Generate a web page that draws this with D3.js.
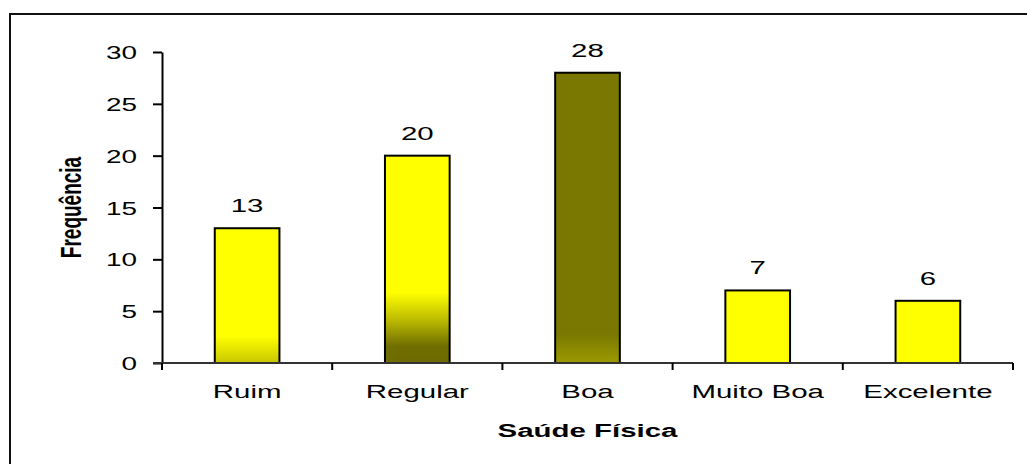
<!DOCTYPE html>
<html>
<head>
<meta charset="utf-8">
<script src="https://cdn.jsdelivr.net/npm/d3@7"></script>
<style>
  html, body { margin: 0; padding: 0; background: #fff; }
  svg { display: block; }
  text { font-family: "Liberation Sans", Arial, sans-serif; fill: #000; }
</style>
</head>
<body>
<svg id="chart" width="1027" height="464"></svg>
<script>
// ---- data ----
const categories = ["Ruim", "Regular", "Boa", "Muito Boa", "Excelente"];
const values = [13, 20, 28, 7, 6];
const yTicks = [0, 5, 10, 15, 20, 25, 30];
const xTitle = "Saúde Física";
const yTitle = "Frequência";

// ---- styling ----
const SX = 1.55; // horizontal stretch of glyphs seen in the reference
const yellow = "#FFFF00", olive = "#7A7800";
const gradients = [
  [[0, yellow], [0.8, yellow], [1, "#C8C600"]],
  [[0, yellow], [0.66, yellow], [0.8, "#B8B600"], [0.92, "#706E00"], [1, "#6E6C00"]],
  [[0, olive], [0.9, olive], [1, "#9C9A00"]],
  [[0, yellow], [1, yellow]],
  [[0, yellow], [1, yellow]]
];

const svg = d3.select("#chart");
const margin = { left: 162, right: 1013, top: 52, bottom: 363 };

const x = d3.scaleBand().domain(categories)
  .range([margin.left, margin.right]).paddingInner(0.62).paddingOuter(0.31);
const y = d3.scaleLinear().domain([0, 30]).range([margin.bottom, margin.top]);

// outer frame (extends past right/bottom edges)
svg.append("rect").attr("x", 10).attr("y", 14).attr("width", 1040).attr("height", 480)
  .attr("fill", "none").attr("stroke", "#111").attr("stroke-width", 2);

const defs = svg.append("defs");
gradients.forEach((stops, i) => {
  const g = defs.append("linearGradient").attr("id", "g" + i)
    .attr("x1", 0).attr("y1", 0).attr("x2", 0).attr("y2", 1);
  stops.forEach(s => g.append("stop").attr("offset", s[0]).attr("stop-color", s[1]));
});

function stretch(sel, fs, weight) {
  sel.each(function () {
    const t = d3.select(this);
    const tx = +t.attr("x") || 0, ty = +t.attr("y") || 0;
    t.attr("x", 0).attr("y", 0)
      .attr("transform", `translate(${tx},${ty}) scale(${SX},1)`)
      .style("font-size", fs + "px").style("font-weight", weight || "normal")
      .style("font-family", '"Liberation Sans", Arial, sans-serif');
  });
}

// bars
svg.append("g").selectAll("rect").data(values).join("rect")
  .attr("x", (d, i) => x(categories[i]))
  .attr("y", d => y(d))
  .attr("width", x.bandwidth())
  .attr("height", d => y(0) - y(d))
  .attr("fill", (d, i) => `url(#g${i})`)
  .attr("stroke", "#000").attr("stroke-width", 2);

// y axis
const ya = svg.append("g").attr("transform", `translate(${margin.left},0)`)
  .call(d3.axisLeft(y).tickValues(yTicks).tickSize(9).tickSizeOuter(0).tickPadding(16));
ya.select(".domain").attr("stroke", "#000").attr("stroke-width", 2);
ya.selectAll(".tick line").attr("stroke", "#000").attr("stroke-width", 2);
ya.selectAll(".tick text").attr("dy", null).attr("y", 6.5).attr("fill", "#000");
stretch(ya.selectAll(".tick text"), 18);

// x axis (line + boundary ticks + labels)
const xa = svg.append("g");
xa.append("line").attr("x1", margin.left - 9).attr("x2", margin.right)
  .attr("y1", y(0)).attr("y2", y(0)).attr("stroke", "#333").attr("stroke-width", 2);
const bounds = d3.range(categories.length + 1).map(i => x.range()[0] + i * x.step());
xa.selectAll("line.b").data(bounds).join("line").attr("class", "b")
  .attr("x1", d => d).attr("x2", d => d).attr("y1", y(0)).attr("y2", y(0) + 7)
  .attr("stroke", "#000").attr("stroke-width", 2);
const xl = xa.selectAll("text").data(categories).join("text")
  .attr("x", d => x(d) + x.bandwidth() / 2).attr("y", y(0) + 35)
  .attr("text-anchor", "middle").text(d => d);
stretch(xl, 19);

// value labels
const vl = svg.append("g").selectAll("text").data(values).join("text")
  .attr("x", (d, i) => x(categories[i]) + x.bandwidth() / 2)
  .attr("y", d => y(d) - 16)
  .attr("text-anchor", "middle").text(d => d);
stretch(vl, 19);

// axis titles
const xt = svg.append("text").attr("x", (margin.left + margin.right) / 2).attr("y", 437)
  .attr("text-anchor", "middle").text(xTitle);
stretch(xt, 19, "bold");

svg.append("text")
  .attr("transform", `translate(81,${(margin.top + margin.bottom) / 2}) scale(${SX},1) rotate(-90)`)
  .attr("text-anchor", "middle")
  .style("font-size", "19px").style("font-weight", "bold")
  .text(yTitle);
</script>
</body>
</html>
